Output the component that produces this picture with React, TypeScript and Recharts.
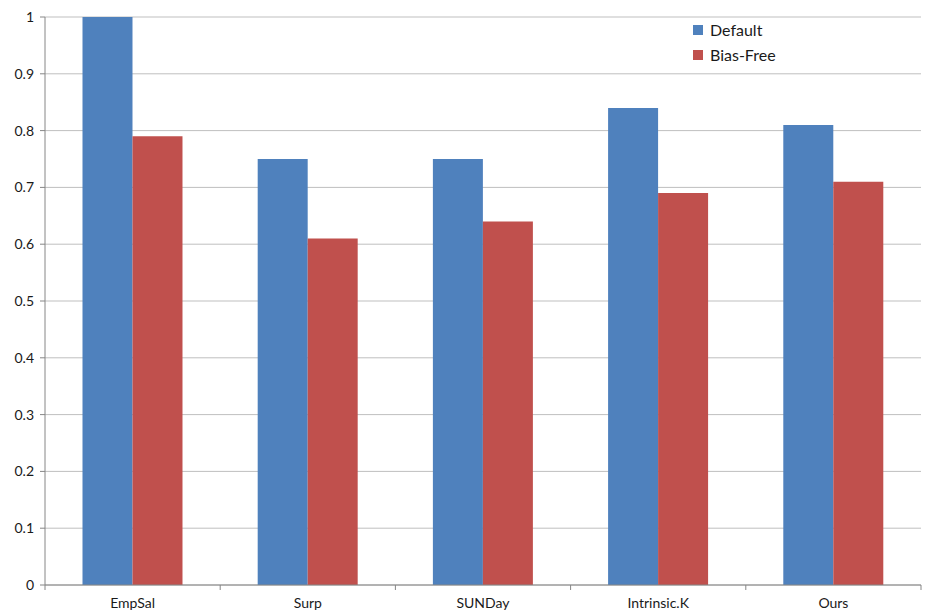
import { BarChart, Bar, XAxis, YAxis, CartesianGrid } from 'recharts'

const categories = ['EmpSal', 'Surp', 'SUNDay', 'Intrinsic.K', 'Ours']
const defaultScores = [1.0, 0.75, 0.75, 0.84, 0.81]
const biasFreeScores = [0.79, 0.61, 0.64, 0.69, 0.71]
const yTicks = [0, 0.1, 0.2, 0.3, 0.4, 0.5, 0.6, 0.7, 0.8, 0.9, 1]

const data = categories.map((name, i) => ({
  name,
  Default: defaultScores[i],
  'Bias-Free': biasFreeScores[i],
}))

const BLUE = '#4F81BD'
const RED = '#C0504D'
const AXIS = '#868686'
const FONT = 'Lato, "Open Sans", sans-serif'

function CategoryTick(props: any) {
  const { x, y, payload, index } = props
  const half = payload.offset || 0
  return (
    <g>
      <line x1={x - half} x2={x - half} y1={y - 8} y2={y - 3} stroke={AXIS} />
      {index === categories.length - 1 && (
        <line x1={x + half} x2={x + half} y1={y - 8} y2={y - 3} stroke={AXIS} />
      )}
      <text x={x} y={y + 15} textAnchor="middle" fontSize={14} fill="#1a1a1a" fontFamily={FONT}>
        {payload.value}
      </text>
    </g>
  )
}

// legend drawn as an overlay so it doesn't eat into the plot area
function LegendBox() {
  const items = [
    { label: 'Default', color: BLUE },
    { label: 'Bias-Free', color: RED },
  ]
  return (
    <div style={{ position: 'absolute', left: 693, top: 17, fontFamily: FONT, fontSize: 16, color: '#1a1a1a' }}>
      {items.map((it) => (
        <div key={it.label} style={{ display: 'flex', alignItems: 'center', height: 25 }}>
          <span style={{ width: 10, height: 10, background: it.color, marginRight: 7, display: 'inline-block' }} />
          {it.label}
        </div>
      ))}
    </div>
  )
}

export default function App() {
  return (
    <div style={{ position: 'absolute', left: 0, top: 0, width: 925, height: 613, background: '#fff' }}>
      <BarChart
        width={925}
        height={613}
        data={data}
        margin={{ top: 17, right: 4, left: 0, bottom: 0 }}
        barCategoryGap="21.4%"
        barGap={0}
      >
        <CartesianGrid vertical={false} stroke="#BFBFBF" />
        <XAxis
          dataKey="name"
          height={28}
          stroke={AXIS}
          tickLine={false}
          tick={<CategoryTick />}
          interval={0}
        />
        <YAxis
          width={45}
          domain={[0, 1]}
          ticks={yTicks}
          stroke={AXIS}
          tickSize={5}
          tickMargin={6}
          tickFormatter={(v: number) => String(Math.round(v * 10) / 10)}
          tick={{ fill: '#1a1a1a', fontSize: 14, fontFamily: FONT }}
        />
        <Bar dataKey="Default" fill={BLUE} isAnimationActive={false} />
        <Bar dataKey="Bias-Free" fill={RED} isAnimationActive={false} />
      </BarChart>
      <LegendBox />
    </div>
  )
}
